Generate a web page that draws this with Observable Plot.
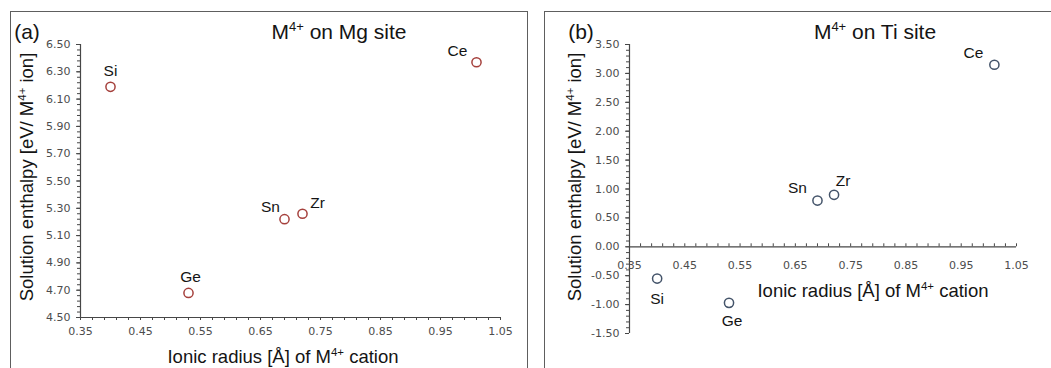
<!DOCTYPE html>
<html><head><meta charset="utf-8">
<script src="https://cdn.jsdelivr.net/npm/d3@7"></script>
<script src="https://cdn.jsdelivr.net/npm/@observablehq/plot@0.6"></script>
<style>
body{margin:0;width:1051px;height:368px;overflow:hidden;background:#fff;position:relative;font-family:"Liberation Sans",Arial,sans-serif;}
.box{position:absolute;border:1px solid #5e5e5e;box-sizing:border-box;}
.abs{position:absolute;white-space:nowrap;color:#141414;line-height:1;}
.c{transform:translate(-50%,-50%);}
.rot{transform:translate(-50%,-50%) rotate(-90deg);}
sup{font-size:0.62em;line-height:0;vertical-align:0.55em;}
.plot{position:absolute;top:0;}
</style></head>
<body>
<div class="box" style="left:10px;top:11px;width:518px;height:400px;"></div>
<div class="box" style="left:544px;top:11px;width:560px;height:400px;"></div>
<div id="pa" class="plot" style="left:0px;"></div>
<div id="pb" class="plot" style="left:529px;"></div>
<div class="abs c" style="left:27px;top:31px;font-size:21px;">(a)</div>
<div class="abs c" style="left:339px;top:31px;font-size:21px;">M<sup>4+</sup> on Mg site</div>
<div class="abs rot" style="left:27px;top:177px;font-size:18.5px;">Solution enthalpy [eV/ M<sup>4+</sup> ion]</div>
<div class="abs c" style="left:283px;top:357px;font-size:18.5px;">Ionic radius [Å] of M<sup>4+</sup> cation</div>
<div class="abs c" style="left:581px;top:31px;font-size:21px;">(b)</div>
<div class="abs c" style="left:875px;top:31px;font-size:21px;">M<sup>4+</sup> on Ti site</div>
<div class="abs rot" style="left:575px;top:177px;font-size:18.5px;">Solution enthalpy [eV/ M<sup>4+</sup> ion]</div>
<div class="abs c" style="left:873px;top:291px;font-size:18.5px;">Ionic radius [Å] of M<sup>4+</sup> cation</div>
<script>
// ---- data ----
const elements = ["Si", "Ge", "Sn", "Zr", "Ce"];
const radius   = [0.40, 0.53, 0.69, 0.72, 1.01];
const mgSite   = [6.19, 4.68, 5.22, 5.26, 6.37];
const tiSite   = [-0.55, -0.97, 0.80, 0.90, 3.15];
const xTicks   = [0.35, 0.45, 0.55, 0.65, 0.75, 0.85, 0.95, 1.05];
const yTicksA  = [4.50, 4.70, 4.90, 5.10, 5.30, 5.50, 5.70, 5.90, 6.10, 6.30, 6.50];
const yTicksB  = [-1.50, -1.00, -0.50, 0.00, 0.50, 1.00, 1.50, 2.00, 2.50, 3.00, 3.50];

// label offsets (px) per element, per panel
const offsA = {Si: [0, -16], Ge: [2, -16], Sn: [-14, -12], Zr: [15, -11], Ce: [-19, -11]};
const offsB = {Si: [0, 20], Ge: [3, 18], Sn: [-20, -13], Zr: [9, -14], Ce: [-21, -12]};

const rowsA = elements.map((e, i) => ({el: e, r: radius[i], v: mgSite[i]}));
const rowsB = elements.map((e, i) => ({el: e, r: radius[i], v: tiSite[i]}));

const minorX  = d3.range(0, 36).map(i => 0.35 + i * 0.02);
const minorYA = d3.range(0, 51).map(i => 4.5 + i * 0.04);
const minorYB = d3.range(0, 51).map(i => -1.5 + i * 0.1);
const fmt = d => d.toFixed(2);
const axisCol = "#474747";
const textCol = "#4d4d4d";
const tickFont = "DejaVu Sans, sans-serif";

function labels(rows, offs) {
  return rows.map(d => Plot.text([d], {
    x: "r", y: "v", text: "el", dx: offs[d.el][0], dy: offs[d.el][1],
    fontSize: 15.5, fill: "#141414", fontFamily: "Liberation Sans, Arial, sans-serif"
  }));
}

const pa = Plot.plot({
  width: 527, height: 368,
  marginLeft: 80, marginRight: 27, marginTop: 44, marginBottom: 51,
  x: {domain: [0.35, 1.05], label: null},
  y: {domain: [4.5, 6.5], label: null},
  style: {background: "transparent", fontFamily: tickFont, fontSize: "11px", color: axisCol, overflow: "visible"},
  marks: [
    Plot.axisX(minorX, {tickSize: 3, fill: "none", stroke: axisCol, label: null}),
    Plot.axisX(xTicks, {tickSize: 3, tickPadding: 7, tickFormat: fmt, stroke: axisCol, fill: textCol, label: null}),
    Plot.axisY(minorYA, {tickSize: 3, fill: "none", stroke: axisCol, label: null}),
    Plot.axisY(yTicksA, {tickSize: 4, tickPadding: 6, tickFormat: fmt, stroke: axisCol, fill: textCol, label: null}),
    Plot.ruleX([0.35], {stroke: axisCol, strokeWidth: 1.2}),
    Plot.ruleY([4.5], {stroke: axisCol, strokeWidth: 1.2}),
    Plot.dot(rowsA, {x: "r", y: "v", r: 4.6, stroke: "#a5403c", strokeWidth: 1.5, fill: "white"}),
    ...labels(rowsA, offsA)
  ]
});
document.getElementById("pa").appendChild(pa);

const pb = Plot.plot({
  width: 522, height: 368,
  marginLeft: 100, marginRight: 35, marginTop: 44, marginBottom: 35,
  x: {domain: [0.35, 1.05], label: null, axis: null},
  y: {domain: [-1.5, 3.5], label: null},
  style: {background: "transparent", fontFamily: tickFont, fontSize: "11px", color: axisCol, overflow: "visible"},
  marks: [
    Plot.axisY(minorYB, {tickSize: 3, fill: "none", stroke: axisCol, label: null}),
    Plot.axisY(yTicksB, {tickSize: 4, tickPadding: 6, tickFormat: fmt, stroke: axisCol, fill: textCol, label: null}),
    Plot.ruleX([0.35], {stroke: axisCol, strokeWidth: 1.2}),
    Plot.ruleY([0], {stroke: axisCol, strokeWidth: 1.2}),
    Plot.ruleX(minorX, {x: d => d, y1: () => 0, y2: () => 0, insetTop: -3, insetBottom: 0, stroke: axisCol}),
    Plot.text(xTicks, {x: d => d, y: () => 0, dy: 19, text: fmt, fill: textCol, fontFamily: tickFont, fontSize: 11}),
    Plot.dot(rowsB, {x: "r", y: "v", r: 4.6, stroke: "#44546a", strokeWidth: 1.5, fill: "white"}),
    ...labels(rowsB, offsB)
  ]
});
document.getElementById("pb").appendChild(pb);
</script>
</body></html>
